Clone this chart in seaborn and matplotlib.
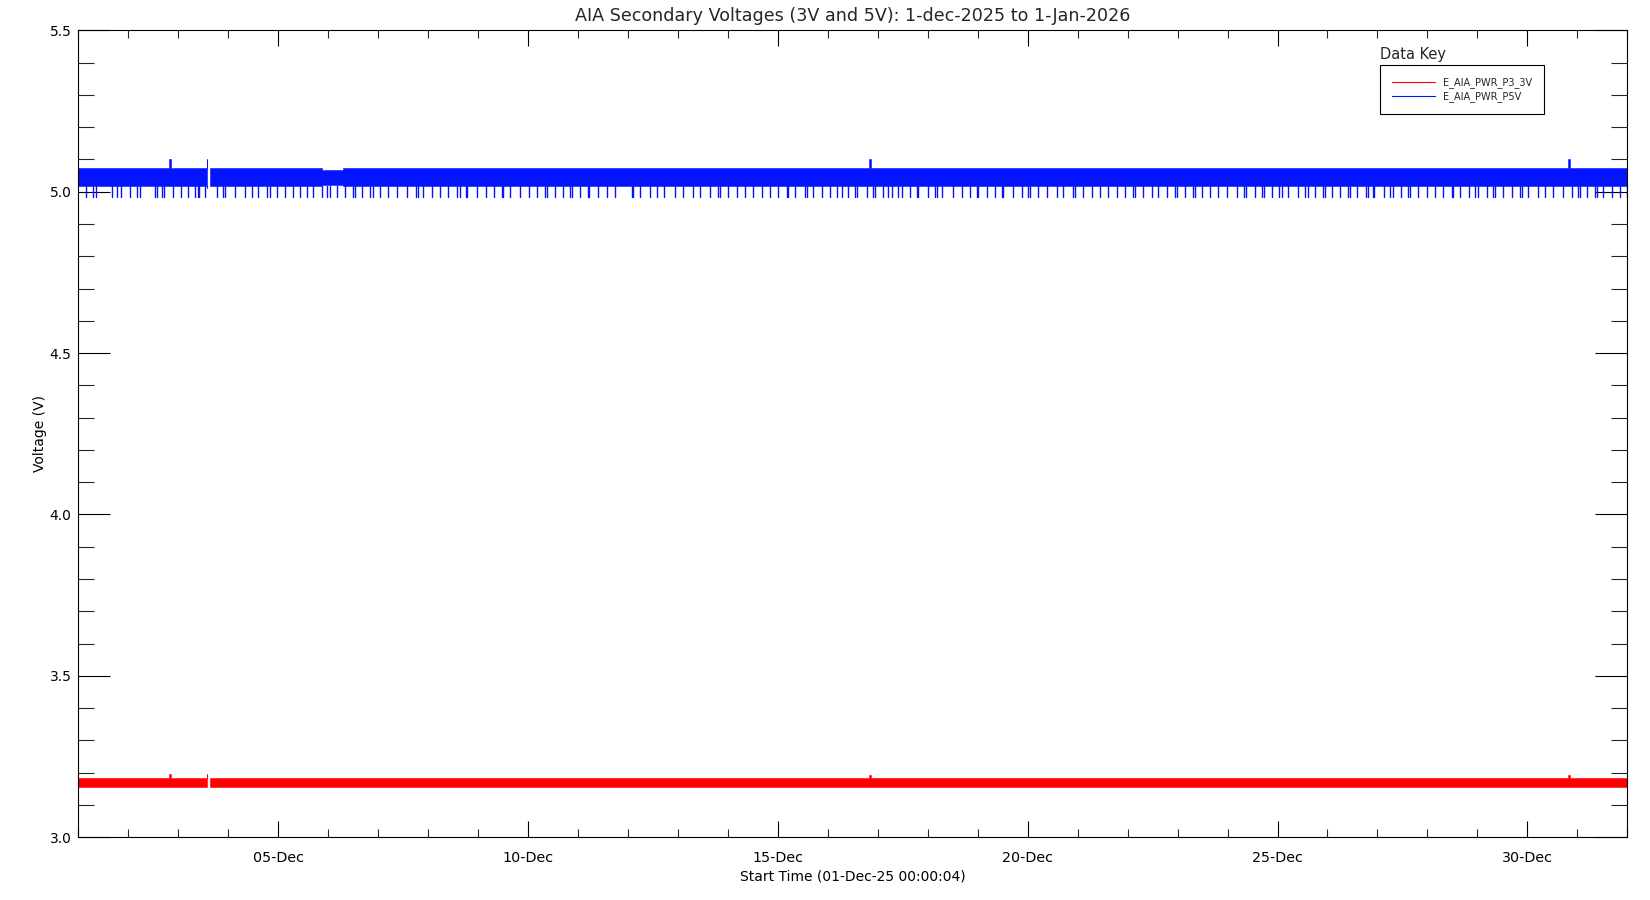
import numpy as np
import pandas as pd
import matplotlib
matplotlib.use("Agg")
import matplotlib.pyplot as plt
import matplotlib.dates as mdates
from matplotlib.ticker import MultipleLocator, FormatStrFormatter
from matplotlib.lines import Line2D
import seaborn as sns

# ---------------- data ----------------
START = pd.Timestamp("2025-12-01 00:00:04")
X_START = pd.Timestamp("2025-12-01 00:00:00")
X_END = pd.Timestamp("2026-01-01 00:00:00")

title = "AIA Secondary Voltages (3V and 5V): 1-dec-2025 to 1-Jan-2026"
xlabel = "Start Time (01-Dec-25 00:00:04)"
ylabel = "Voltage (V)"
series_names = ["E_AIA_PWR_P3_3V", "E_AIA_PWR_P5V"]

# envelope of the dense telemetry (days since start, step-post), NaN = data gap
band_days = [0.0, 1.82, 1.85, 2.576, 2.625, 2.645, 4.87, 5.30, 15.83, 15.86, 29.82, 29.85, 31.0]
p5v_top = [5.074, 5.100, 5.074, 5.100, np.nan, 5.074, 5.066, 5.074, 5.100, 5.074, 5.100, 5.074, 5.074]
p5v_bot = [5.018, 5.018, 5.018, 5.010, np.nan, 5.018, 5.020, 5.018, 5.018, 5.018, 5.018, 5.018, 5.018]
p3v_top = [3.183, 3.196, 3.183, 3.196, np.nan, 3.183, 3.183, 3.183, 3.192, 3.183, 3.192, 3.183, 3.183]
p3v_bot = [3.157, 3.157, 3.157, 3.157, np.nan, 3.157, 3.157, 3.157, 3.157, 3.157, 3.157, 3.157, 3.157]

# downward dropouts of the 5V line (days since start) and their minimum value
p5v_dip_days = [
    0.154, 0.300, 0.354, 0.668, 0.780, 0.849, 1.035, 1.181, 1.235, 1.535, 1.569, 1.669, 1.715,
    1.901, 2.049, 2.201, 2.335, 2.389, 2.421, 2.536, 2.770, 2.902, 2.936, 3.136, 3.336, 3.470,
    3.602, 3.782, 3.836, 3.982, 4.142, 4.303, 4.437, 4.571, 4.703, 4.871, 4.971, 5.037, 5.171,
    5.337, 5.503, 5.537, 5.671, 5.838, 5.904, 6.038, 6.204, 6.372, 6.572, 6.758, 6.804, 6.904,
    7.072, 7.238, 7.404, 7.573, 7.638, 7.753, 7.785, 7.985, 8.159, 8.319, 8.473, 8.505, 8.639,
    8.839, 9.025, 9.186, 9.340, 9.374, 9.540, 9.706, 9.840, 9.874, 10.040, 10.206, 10.226,
    10.406, 10.574, 10.740, 11.075, 11.107, 11.241, 11.441, 11.575, 11.721, 11.947, 12.107,
    12.307, 12.441, 12.642, 12.808, 12.842, 13.008, 13.176, 13.342, 13.508, 13.676, 13.842,
    14.008, 14.176, 14.209, 14.343, 14.543, 14.577, 14.709, 14.877, 15.043, 15.177, 15.277,
    15.409, 15.543, 15.589, 15.777, 15.910, 15.943, 16.110, 16.210, 16.278, 16.410, 16.478,
    16.644, 16.778, 16.810, 17.010, 17.144, 17.178, 17.278, 17.511, 17.679, 17.845, 17.991,
    18.011, 18.179, 18.345, 18.479, 18.511, 18.711, 18.879, 19.011, 19.045, 19.212, 19.380,
    19.580, 19.712, 19.912, 19.946, 20.112, 20.280, 20.446, 20.612, 20.781, 20.947, 21.113,
    21.147, 21.313, 21.481, 21.613, 21.781, 21.947, 21.981, 22.148, 22.314, 22.348, 22.482,
    22.648, 22.814, 22.982, 23.182, 23.328, 23.368, 23.548, 23.682, 23.728, 23.894, 24.034,
    24.082, 24.215, 24.415, 24.549, 24.615, 24.749, 24.915, 24.949, 25.083, 25.249, 25.415,
    25.449, 25.583, 25.769, 25.815, 25.903, 25.929, 26.136, 26.250, 26.304, 26.464, 26.616,
    26.650, 26.816, 26.984, 27.150, 27.316, 27.484, 27.517, 27.651, 27.837, 27.951, 28.017,
    28.185, 28.317, 28.351, 28.517, 28.685, 28.851, 28.885, 29.017, 29.206, 29.352, 29.518,
    29.705, 29.886, 30.018, 30.052, 30.186, 30.352, 30.386, 30.519, 30.687, 30.853, 30.985,
]
p5v_dip_low = 4.984
p5v_dip_top = 5.018

# ---------------- style ----------------
sns.set_theme(style="white")
plt.rcParams["font.family"] = ["DejaVu Sans"]
RED = "#ff0000"
BLUE = "#0514ff"

fig = plt.figure(figsize=(16.5, 9), dpi=100)
ax = fig.add_axes([0.04745, 0.06967, 0.93879, 0.89667])
ax.set_facecolor("white")

t_band = START + pd.to_timedelta(band_days, unit="D")
for top, bot, color in [(p3v_top, p3v_bot, RED), (p5v_top, p5v_bot, BLUE)]:
    ax.fill_between(t_band, bot, top, step="post", facecolor=color,
                    edgecolor=color, lw=0.4)

# dropouts: one short vertical segment per dip, drawn through seaborn
dips = pd.DataFrame({
    "time": np.repeat(START + pd.to_timedelta(p5v_dip_days, unit="D"), 2),
    "volt": np.tile([p5v_dip_top, p5v_dip_low], len(p5v_dip_days)),
    "dip": np.repeat(np.arange(len(p5v_dip_days)), 2),
})
sns.lineplot(data=dips, x="time", y="volt", units="dip", estimator=None,
             color=BLUE, lw=1.0, ax=ax, sort=False, legend=False)

ax.set_xlim(X_START, X_END)
ax.set_ylim(3.0, 5.5)

ax.xaxis.set_major_locator(mdates.DayLocator(bymonthday=[5, 10, 15, 20, 25, 30]))
ax.xaxis.set_minor_locator(mdates.DayLocator())
ax.xaxis.set_major_formatter(mdates.DateFormatter("%d-%b"))
ax.yaxis.set_major_locator(MultipleLocator(0.5))
ax.yaxis.set_minor_locator(MultipleLocator(0.1))
ax.yaxis.set_major_formatter(FormatStrFormatter("%.1f"))

ax.tick_params(axis="x", which="major", direction="in", length=11.5, width=0.8,
               top=True, bottom=True, pad=10, labelsize=10.3, colors="black")
ax.tick_params(axis="x", which="minor", direction="in", length=5.8, width=0.8,
               top=True, bottom=True)
ax.tick_params(axis="y", which="major", direction="in", length=23, width=0.8,
               left=True, right=True, pad=5, labelsize=10, colors="black")
ax.tick_params(axis="y", which="minor", direction="in", length=11.5, width=0.8,
               left=True, right=True)
for s in ax.spines.values():
    s.set_color("black")
    s.set_linewidth(0.8)

ax.set_xlabel(xlabel, fontsize=10, labelpad=3, color="black")
ax.set_ylabel(ylabel, fontsize=10, labelpad=2, color="black")
fig.text(852.6 / 1650, 1 - 16 / 900, title, ha="center", va="center", fontsize=12.6)

handles = [Line2D([], [], color=RED, lw=0.8), Line2D([], [], color=BLUE, lw=0.8)]
leg = ax.legend(handles, series_names, loc="upper left",
                bbox_to_anchor=(1380 / 1650, 1 - 65.3 / 900), bbox_transform=fig.transFigure,
                fontsize=7, frameon=True, fancybox=False, framealpha=1, edgecolor="black",
                handlelength=4.5, handletextpad=0.8, borderpad=1.2, labelspacing=0.35,
                borderaxespad=0)
leg.get_frame().set_linewidth(0.8)
fig.text(1380 / 1650, 1 - 55 / 900, "Data Key", ha="left", va="center", fontsize=10.5)

fig.savefig("out.png", dpi=100)
